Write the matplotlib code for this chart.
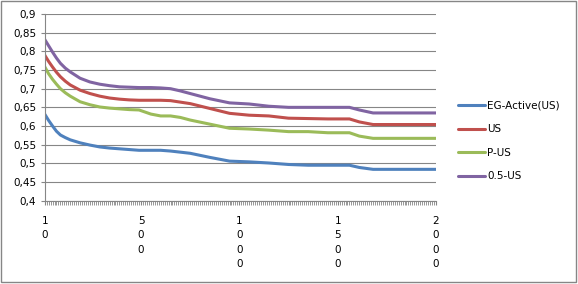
import matplotlib.pyplot as plt
from matplotlib.patches import Rectangle
from matplotlib.ticker import MultipleLocator, FixedLocator

# category positions
x = [10, 30, 50, 70, 90, 115, 140, 190, 240, 290, 340, 390, 440, 490, 550, 600, 650,
     700, 750, 850, 950, 1050, 1150, 1250, 1350, 1450, 1560, 1610, 1680, 1800, 2000]

eg_active = [0.632, 0.615, 0.600, 0.586, 0.576, 0.569, 0.563, 0.555, 0.549, 0.544,
             0.541, 0.539, 0.537, 0.535, 0.535, 0.535, 0.533, 0.530, 0.527, 0.516,
             0.506, 0.504, 0.501, 0.497, 0.495, 0.495, 0.495, 0.489, 0.484, 0.484, 0.484]
us = [0.790, 0.773, 0.758, 0.744, 0.732, 0.720, 0.710, 0.696, 0.687, 0.680,
      0.675, 0.672, 0.670, 0.669, 0.669, 0.669, 0.668, 0.664, 0.660, 0.647,
      0.634, 0.629, 0.627, 0.621, 0.620, 0.619, 0.619, 0.611, 0.604, 0.604, 0.604]
p_us = [0.759, 0.740, 0.725, 0.712, 0.700, 0.689, 0.680, 0.665, 0.657, 0.651,
        0.648, 0.646, 0.644, 0.643, 0.632, 0.627, 0.627, 0.623, 0.616, 0.605,
        0.594, 0.592, 0.589, 0.585, 0.585, 0.582, 0.582, 0.573, 0.567, 0.567, 0.567]
half_us = [0.832, 0.815, 0.798, 0.782, 0.768, 0.755, 0.745, 0.728, 0.718, 0.712,
           0.708, 0.705, 0.704, 0.703, 0.703, 0.702, 0.700, 0.694, 0.687, 0.673,
           0.662, 0.659, 0.653, 0.650, 0.650, 0.650, 0.650, 0.643, 0.635, 0.635, 0.635]

series = [("EG-Active(US)", eg_active, "#4F81BD"),
          ("US", us, "#C0504D"),
          ("P-US", p_us, "#9BBB59"),
          ("0.5-US", half_us, "#8064A2")]

xtick_vals = [10, 500, 1000, 1500, 2000]
yticks = [0.4, 0.45, 0.5, 0.55, 0.6, 0.65, 0.7, 0.75, 0.8, 0.85, 0.9]

fig = plt.figure(figsize=(5.78, 2.84), dpi=100)
ax = fig.add_axes([0.0773, 0.2933, 0.6770, 0.6574])

for name, vals, col in series:
    ax.plot(x, vals, color=col, lw=2.2, label=name, solid_capstyle='round')

ax.set_xlim(10, 2000)
ax.set_ylim(0.4, 0.9)

gray = "#868686"
ax.set_yticks(yticks)
ax.set_yticklabels([f"{v:g}".replace(".", ",") for v in yticks], fontsize=7.5)
ax.yaxis.grid(True, color=gray, lw=0.8)
ax.set_axisbelow(True)

ax.xaxis.set_major_locator(FixedLocator(xtick_vals))
ax.set_xticklabels(["\n".join(str(v)) for v in xtick_vals], fontsize=7.5,
                   linespacing=1.55, va='top')
ax.xaxis.set_minor_locator(MultipleLocator(10))
ax.tick_params(axis='x', which='both', length=3, color=gray, pad=8)
ax.tick_params(axis='y', length=3, color=gray, pad=3)

for s in ['top', 'right']:
    ax.spines[s].set_visible(False)
for s in ['left', 'bottom']:
    ax.spines[s].set_color(gray)
    ax.spines[s].set_linewidth(0.8)

fig.legend(loc='center left', bbox_to_anchor=(0.792, 0.503), frameon=False,
           fontsize=7.5, handlelength=2.6, handletextpad=0.2, labelspacing=1.3,
           borderpad=0, borderaxespad=0)

fig.patches.append(Rectangle((0.001, 0.006), 0.996, 0.992, transform=fig.transFigure,
                             fill=False, edgecolor=gray, lw=1))

fig.savefig("out.png", dpi=100)
